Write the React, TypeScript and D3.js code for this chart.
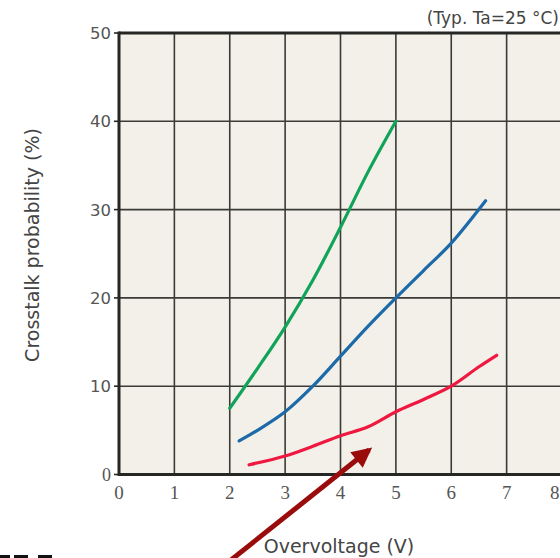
import React, { useEffect, useRef } from "react";
import * as d3 from "d3";

// Crosstalk probability vs. overvoltage, three device curves
const greenX = [2.0, 2.5, 3.0, 3.5, 4.0, 4.5, 5.0];
const greenY = [7.5, 12.0, 16.7, 22.0, 28.0, 34.3, 40.0];

const blueX = [2.17, 2.5, 3.0, 3.5, 4.0, 4.5, 5.0, 5.5, 6.0, 6.62];
const blueY = [3.8, 5.0, 7.1, 10.0, 13.4, 16.8, 20.0, 23.1, 26.2, 31.0];

const redX = [2.35, 3.0, 3.5, 4.0, 4.5, 5.0, 5.5, 6.0, 6.5, 6.82];
const redY = [1.1, 2.1, 3.2, 4.4, 5.4, 7.1, 8.5, 10.0, 12.2, 13.5];

const xTicks = [0, 1, 2, 3, 4, 5, 6, 7, 8];
const yTicks = [0, 10, 20, 30, 40, 50];

const W = 560;
const H = 558;

export default function App() {
  const ref = useRef<SVGSVGElement | null>(null);

  useEffect(() => {
    const svg = d3.select(ref.current);
    svg.selectAll("*").remove();

    const x = d3.scaleLinear().domain([0, 8]).range([119, 562]);
    const y = d3.scaleLinear().domain([0, 50]).range([474.5, 33]);

    // plot background
    svg
      .append("rect")
      .attr("x", x(0))
      .attr("y", y(50))
      .attr("width", x(8) - x(0))
      .attr("height", y(0) - y(50))
      .attr("fill", "#f2f0e9");

    // grid
    const grid = svg.append("g").attr("stroke", "#3a3a36").attr("stroke-width", 1.6);
    grid
      .selectAll("line.v")
      .data(xTicks.filter((t) => t > 0))
      .join("line")
      .attr("x1", (d) => x(d))
      .attr("x2", (d) => x(d))
      .attr("y1", y(0))
      .attr("y2", y(50));
    grid
      .selectAll("line.h")
      .data(yTicks.filter((t) => t > 0 && t < 50))
      .join("line")
      .attr("x1", x(0))
      .attr("x2", x(8))
      .attr("y1", (d) => y(d))
      .attr("y2", (d) => y(d));

    // frame
    const frame = svg.append("g").attr("stroke", "#262624").attr("stroke-width", 3);
    frame.append("line").attr("x1", x(0)).attr("x2", x(0)).attr("y1", y(50) - 1.5).attr("y2", y(0) + 1.5);
    frame.append("line").attr("x1", x(0)).attr("x2", x(8)).attr("y1", y(0)).attr("y2", y(0));
    frame.append("line").attr("x1", x(0)).attr("x2", x(8)).attr("y1", y(50)).attr("y2", y(50));

    // tick stubs on the y axis
    svg
      .append("g")
      .attr("stroke", "#262624")
      .attr("stroke-width", 1.6)
      .selectAll("line")
      .data(yTicks)
      .join("line")
      .attr("x1", x(0) - 5)
      .attr("x2", x(0))
      .attr("y1", (d) => y(d))
      .attr("y2", (d) => y(d));

    // y tick labels
    svg
      .append("g")
      .selectAll("text")
      .data(yTicks)
      .join("text")
      .attr("x", x(0) - 8)
      .attr("y", (d) => y(d))
      .attr("dy", "0.36em")
      .attr("text-anchor", "end")
      .attr("font-family", (d) => (d === 0 ? "Liberation Serif" : "DejaVu Sans"))
      .attr("font-size", (d) => (d === 0 ? 18 : 16.5))
      .attr("fill", "#555")
      .text((d) => d);

    // x tick labels (the last one is kept inside the drawing's right edge)
    svg
      .append("g")
      .selectAll("text")
      .data(xTicks)
      .join("text")
      .attr("x", (d) => (d === 8 ? W - 0.5 : x(d)))
      .attr("y", y(0) + 24)
      .attr("text-anchor", (d) => (d === 8 ? "end" : "middle"))
      .attr("font-family", "Liberation Serif")
      .attr("font-size", 19)
      .attr("fill", "#555")
      .text((d) => d);

    // axis titles
    svg
      .append("text")
      .attr("x", 339)
      .attr("y", 553)
      .attr("text-anchor", "middle")
      .attr("font-family", "DejaVu Sans")
      .attr("font-size", 19)
      .attr("fill", "#444")
      .text("Overvoltage (V)");

    svg
      .append("text")
      .attr("transform", "translate(39,245) rotate(-90)")
      .attr("text-anchor", "middle")
      .attr("font-family", "DejaVu Sans")
      .attr("font-size", 19)
      .attr("fill", "#444")
      .text("Crosstalk probability (%)");

    svg
      .append("text")
      .attr("x", 559)
      .attr("y", 24)
      .attr("text-anchor", "end")
      .attr("font-family", "DejaVu Sans")
      .attr("font-size", 17)
      .attr("fill", "#444")
      .text("(Typ. Ta=25 °C)");

    // curves
    const line = d3
      .line<[number, number]>()
      .x((d) => x(d[0]))
      .y((d) => y(d[1]))
      .curve(d3.curveCatmullRom.alpha(0.5));

    const series = [
      { xs: greenX, ys: greenY, color: "#11a35a" },
      { xs: blueX, ys: blueY, color: "#1d6aa8" },
      { xs: redX, ys: redY, color: "#ef1840" },
    ];
    series.forEach((s) => {
      const pts = s.xs.map((v, i) => [v, s.ys[i]] as [number, number]);
      svg
        .append("path")
        .attr("d", line(pts))
        .attr("fill", "none")
        .attr("stroke", s.color)
        .attr("stroke-width", 3.2)
        .attr("stroke-linecap", "round");
    });

    // pointer arrow
    const defs = svg.append("defs");
    defs
      .append("marker")
      .attr("id", "arrowhead")
      .attr("viewBox", "0 0 10 10")
      .attr("refX", 8)
      .attr("refY", 5)
      .attr("markerWidth", 4.4)
      .attr("markerHeight", 4)
      .attr("orient", "auto")
      .append("path")
      .attr("d", "M0,0 L10,5 L0,10 Z")
      .attr("fill", "#9a0b0b");
    svg
      .append("line")
      .attr("x1", 231)
      .attr("y1", 560)
      .attr("x2", 369)
      .attr("y2", 450)
      .attr("stroke", "#9a0b0b")
      .attr("stroke-width", 5)
      .attr("marker-end", "url(#arrowhead)");

    // dashed stub in the lower-left corner
    svg
      .append("line")
      .attr("x1", 0)
      .attr("x2", 54)
      .attr("y1", 556.5)
      .attr("y2", 556.5)
      .attr("stroke", "#111")
      .attr("stroke-width", 3)
      .attr("stroke-dasharray", "10 4 14 10 14");
  }, []);

  return (
    <svg
      ref={ref}
      width={W}
      height={H}
      style={{ position: "absolute", left: 0, top: 0, background: "#fff" }}
    />
  );
}
